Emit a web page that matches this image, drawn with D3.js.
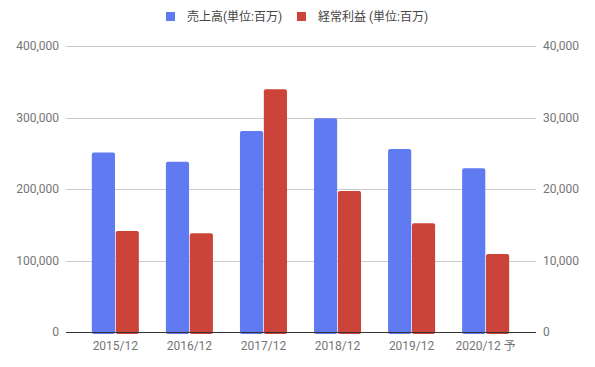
<!DOCTYPE html>
<html>
<head>
<meta charset="utf-8">
<script src="https://cdn.jsdelivr.net/npm/d3@7"></script>
<style>
body { margin: 0; background: #fff; }
text { font-family: Roboto, "Noto Sans CJK JP", sans-serif; }
</style>
</head>
<body>
<div id="chart"></div>
<script>
// data
var years = ["2015/12", "2016/12", "2017/12", "2018/12", "2019/12", "2020/12 予"];
var sales = [251000, 238000, 281000, 299000, 256000, 229000];   // 売上高 (left axis)
var profit = [14130, 13800, 33950, 19720, 15200, 10900];        // 経常利益 (right axis)
var leftTicks = [0, 100000, 200000, 300000, 400000];
var rightTicks = [0, 10000, 20000, 30000, 40000];
var seriesNames = ["売上高(単位:百万)", "経常利益 (単位:百万)"];
var colors = ["#607bf2", "#cc4439"];

var W = 595, H = 367;
var plot = {left: 66, right: 536, top: 46, bottom: 332};

var svg = d3.select("#chart").append("svg")
    .attr("width", W)
    .attr("height", H);

// scales
var x = d3.scaleBand()
    .domain(years)
    .range([78.5, 522.5])
    .paddingInner(0.365)
    .paddingOuter(0.18);
var inner = d3.scaleBand()
    .domain([0, 1])
    .range([0, x.bandwidth()])
    .paddingInner(0.03);
var yL = d3.scaleLinear().domain([0, 400000]).range([plot.bottom, plot.top]);
var yR = d3.scaleLinear().domain([0, 40000]).range([plot.bottom, plot.top]);

// gridlines
svg.append("g")
    .selectAll("line")
    .data(leftTicks.slice(1))
    .enter()
    .append("line")
    .attr("x1", plot.left)
    .attr("x2", plot.right)
    .attr("y1", function(d) { return Math.round(yL(d)) + 0.5; })
    .attr("y2", function(d) { return Math.round(yL(d)) + 0.5; })
    .attr("stroke", "#cccccc")
    .attr("stroke-width", 1);

// left axis labels
svg.append("g")
    .selectAll("text")
    .data(leftTicks)
    .enter()
    .append("text")
    .attr("x", 59)
    .attr("y", function(d) { return yL(d) + 4; })
    .attr("text-anchor", "end")
    .style("font-size", "12px")
    .style("fill", "#757575")
    .text(function(d) { return d3.format(",")(d); });

// right axis labels
svg.append("g")
    .selectAll("text")
    .data(rightTicks)
    .enter()
    .append("text")
    .attr("x", 543)
    .attr("y", function(d) { return yR(d) + 4; })
    .attr("text-anchor", "start")
    .style("font-size", "12px")
    .style("fill", "#757575")
    .text(function(d) { return d3.format(",")(d); });

// bars
var groups = svg.append("g")
    .selectAll("g")
    .data(years)
    .enter()
    .append("g")
    .attr("transform", function(d) { return "translate(" + x(d) + ",0)"; });

groups.append("rect")
    .attr("x", inner(0))
    .attr("width", inner.bandwidth())
    .attr("y", function(d, i) { return yL(sales[i]); })
    .attr("height", function(d, i) { return plot.bottom - yL(sales[i]) + 2; })
    .attr("rx", 2)
    .attr("fill", colors[0]);

groups.append("rect")
    .attr("x", inner(1))
    .attr("width", inner.bandwidth())
    .attr("y", function(d, i) { return yR(profit[i]); })
    .attr("height", function(d, i) { return plot.bottom - yR(profit[i]) + 2; })
    .attr("rx", 2)
    .attr("fill", colors[1]);

// baseline
svg.append("line")
    .attr("x1", plot.left)
    .attr("x2", plot.right)
    .attr("y1", plot.bottom + 0.5)
    .attr("y2", plot.bottom + 0.5)
    .attr("stroke", "#333333")
    .attr("stroke-width", 1);

// category labels
svg.append("g")
    .selectAll("text")
    .data(years)
    .enter()
    .append("text")
    .attr("x", function(d) { return x(d) + x.bandwidth() / 2; })
    .attr("y", 350)
    .attr("text-anchor", "middle")
    .style("font-size", "12px")
    .style("fill", "#757575")
    .text(function(d) { return d; });

// legend
var legendX = [166, 297];
var legend = svg.append("g")
    .selectAll("g")
    .data(seriesNames)
    .enter()
    .append("g")
    .attr("transform", function(d, i) { return "translate(" + legendX[i] + ",12)"; });

legend.append("rect")
    .attr("width", 9)
    .attr("height", 9)
    .attr("fill", function(d, i) { return colors[i]; });

legend.append("text")
    .attr("x", 21)
    .attr("y", 9)
    .style("font-size", "12px")
    .style("fill", "#444444")
    .text(function(d) { return d; });
</script>
</body>
</html>
